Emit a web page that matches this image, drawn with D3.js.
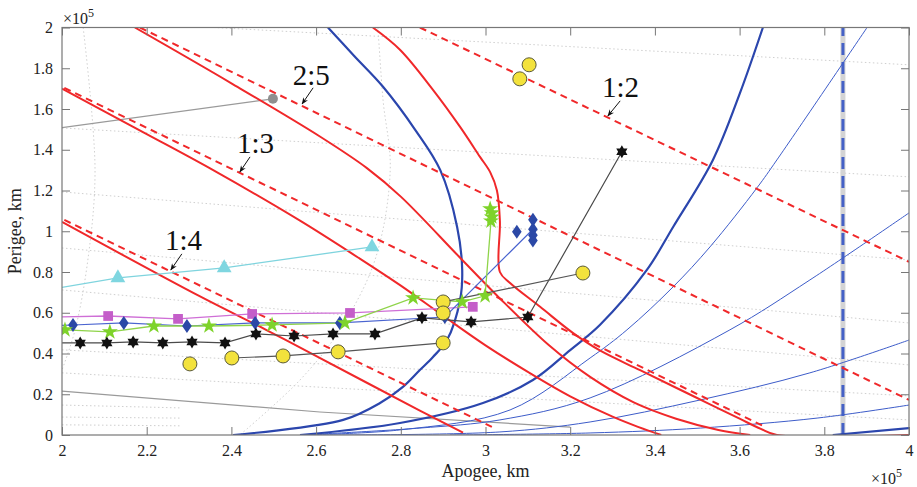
<!DOCTYPE html>
<html>
<head>
<meta charset="utf-8">
<script src="https://d3js.org/d3.v7.min.js"></script>
<style>
  body { margin: 0; background: #fff; }
  svg { font-family: "Liberation Serif", "Times New Roman", serif; }
</style>
</head>
<body>
<div id="chart"></div>
<script>
// all values in units of 1e5 km
var xTicks = [2, 2.2, 2.4, 2.6, 2.8, 3, 3.2, 3.4, 3.6, 3.8, 4];
var xTickLabels = ['2', '2.2', '2.4', '2.6', '2.8', '3', '3.2', '3.4', '3.6', '3.8', '4'];
var yTicks = [0, 0.2, 0.4, 0.6, 0.8, 1, 1.2, 1.4, 1.6, 1.8, 2];
var yTickLabels = ['0', '0.2', '0.4', '0.6', '0.8', '1', '1.2', '1.4', '1.6', '1.8', '2'];

// resonance curves (solid = perturbed, dashed = Keplerian)
var res14Solid = [[2.0, 1.046], [2.326, 0.68], [2.484, 0.514], [2.586, 0.403], [2.845, 0.12], [2.947, 0.012]];
var res13Solid = [[2.0, 1.70], [2.2, 1.477], [2.357, 1.30], [2.562, 1.052], [2.7, 0.87], [2.8, 0.733], [2.9, 0.585],
  [3.0, 0.44], [3.1, 0.31], [3.2, 0.19], [3.3, 0.09], [3.36, 0.04], [3.415, 0.0]];
var res25Solid = [[2.172, 2.0], [2.4, 1.726], [2.609, 1.465], [2.72, 1.31], [2.8, 1.17], [2.94, 0.87], [3.027, 0.685],
  [3.15, 0.44], [3.247, 0.285], [3.35, 0.16], [3.45, 0.08], [3.55, 0.025], [3.625, 0.0]];
var res12Solid = [[2.734, 2.0], [2.798, 1.891], [2.876, 1.694], [2.94, 1.512], [2.987, 1.365], [3.011, 1.29], [3.027, 1.20],
  [3.034, 1.05], [3.034, 0.80], [3.058, 0.746], [3.129, 0.629], [3.207, 0.50], [3.27, 0.415], [3.365, 0.318],
  [3.45, 0.232], [3.523, 0.158], [3.6, 0.08], [3.65, 0.03], [3.688, 0.0], [4.0, 0.0]];
var res14Dash = [[1.98, 1.081], [3.015, 0.04]];
var res13Dash = [[1.98, 1.729], [3.66, 0.04]];
var res25Dash = [[2.184, 2.0], [4.0, 0.172]];
var res12Dash = [[2.845, 2.0], [4.0, 0.85]];

// blue curves
var blueThickA = [[2.628, 2.0], [2.69, 1.86], [2.758, 1.709], [2.834, 1.498], [2.893, 1.301], [2.933, 1.021], [2.945, 0.81],
  [2.94, 0.663], [2.909, 0.466], [2.876, 0.383], [2.845, 0.319], [2.805, 0.236], [2.751, 0.157], [2.664, 0.074], [2.404, 0.0]];
var blueThickB = [[2.562, 0.0], [2.798, 0.059], [2.994, 0.157], [3.112, 0.27], [3.2, 0.417], [3.27, 0.54], [3.381, 0.81],
  [3.443, 1.021], [3.537, 1.35], [3.601, 1.679], [3.655, 2.0]];
var blueThin1 = [[2.562, 0.0], [2.798, 0.025], [3.058, 0.123], [3.247, 0.378], [3.334, 0.516], [3.443, 0.727],
  [3.53, 0.923], [3.641, 1.213], [3.688, 1.35], [3.901, 2.0]];
var blueThin2 = [[2.562, 0.0], [2.845, 0.034], [3.034, 0.074], [3.247, 0.182], [3.577, 0.516], [3.766, 0.761], [4.0, 1.09]];
var blueThin3 = [[2.633, 0.0], [3.034, 0.015], [3.247, 0.064], [3.507, 0.172], [3.766, 0.305], [4.0, 0.466]];
var blueThin4 = [[2.916, 0.0], [3.247, 0.01], [3.507, 0.034], [3.783, 0.083], [4.0, 0.147]];
var blueShort = [[3.82, 0.0], [4.0, 0.034]];
var moonDistance = 3.844;

// grey reference lines
var greyUpper = [[1.95, 1.494], [2.498, 1.65]];
var greyLower = [[1.95, 0.224], [2.609, 0.113], [3.2, 0.039]];
var greyDot = [2.498, 1.65];

// trajectories
var cyanTri = [[1.9, 0.69], [2.132, 0.771], [2.383, 0.82], [2.732, 0.923]];
var magentaSq = [[1.9, 0.575], [2.109, 0.584], [2.274, 0.57], [2.449, 0.594], [2.68, 0.599], [2.97, 0.629]];
var blueDiam = [[1.9, 0.53], [2.026, 0.54], [2.146, 0.55], [2.295, 0.535], [2.456, 0.55], [2.656, 0.55], [2.904, 0.579], [3.112, 1.01]];
var blueDiamExtra = [[3.074, 0.997], [3.112, 1.056], [3.112, 0.98], [3.112, 0.955]];
var greenStar = [[2.007, 0.516], [2.113, 0.506], [2.217, 0.535], [2.347, 0.535], [2.496, 0.54], [2.668, 0.55], [2.829, 0.673],
  [2.945, 0.653], [2.999, 0.683], [3.013, 1.05], [3.015, 1.07], [3.015, 1.09], [3.011, 1.11]];
var blackStar = [[1.9, 0.452], [2.043, 0.452], [2.106, 0.452], [2.168, 0.457], [2.238, 0.452], [2.307, 0.457], [2.385, 0.452],
  [2.458, 0.496], [2.548, 0.486], [2.64, 0.496], [2.739, 0.496], [2.85, 0.575], [2.966, 0.555], [3.1, 0.579], [3.322, 1.39]];
var yellowA = [[2.401, 0.378], [2.522, 0.388], [2.652, 0.408], [2.9, 0.452]];
var yellowB = [[2.9, 0.653], [3.23, 0.795]];
var yellowSingle = [[2.302, 0.349], [2.9, 0.599], [3.081, 1.748], [3.103, 1.817]];

// faint background grid of another coordinate family
var faintLines = [
  [[2.0, 2.04], [4.0, 1.817]], [[2.0, 1.507], [4.0, 1.267]], [[2.0, 1.193], [4.0, 0.859]],
  [[2.0, 0.918], [4.0, 0.55]], [[2.0, 0.712], [4.0, 0.344]], [[2.0, 0.418], [4.0, 0.192]],
  [[2.0, 0.305], [4.0, 0.074]], [[2.0, 0.147], [2.28, 0.133]], [[2.0, 0.088], [2.28, 0.083]],
  [[2.0, 0.05], [2.28, 0.045]],
  [[2.05, 2.0], [2.078, 1.301], [2.061, 0.859], [2.031, 0.516], [2.0, 0.319]],
  [[2.746, 2.0], [2.758, 1.646], [2.775, 1.301], [2.739, 0.859], [2.656, 0.516], [2.562, 0.27], [2.42, 0.0]]
];

var labels = [
  {text: '2:5', x: 2.545, y: 1.719, ax: 2.593, ay: 1.704, bx: 2.567, by: 1.625},
  {text: '1:3', x: 2.413, y: 1.385, ax: 2.444, ay: 1.365, bx: 2.42, by: 1.291},
  {text: '1:4', x: 2.243, y: 0.908, ax: 2.283, ay: 0.889, bx: 2.257, by: 0.81},
  {text: '1:2', x: 3.275, y: 1.66, ax: 3.318, ay: 1.64, bx: 3.289, by: 1.566}
];

var W = 917, H = 487;
var x = d3.scaleLinear().domain([2, 4]).range([62, 909]);
var y = d3.scaleLinear().domain([0, 2]).range([435, 27.5]);

var RED = '#f0282a', BLUE = '#2b46ad', BLUE_T = '#3d5cc9';

var svg = d3.select('#chart').append('svg').attr('width', W).attr('height', H);

svg.append('defs').append('clipPath').attr('id', 'plot')
  .append('rect').attr('x', x(2)).attr('y', y(2)).attr('width', x(4) - x(2)).attr('height', y(0) - y(2));
svg.select('defs').append('marker').attr('id', 'arrow')
  .attr('viewBox', '0 0 10 10').attr('refX', 9).attr('refY', 5)
  .attr('markerWidth', 7).attr('markerHeight', 7).attr('orient', 'auto')
  .append('path').attr('d', 'M0,1L10,5L0,9L3,5Z').attr('fill', '#111');

var g = svg.append('g').attr('clip-path', 'url(#plot)');

var line = d3.line().x(function (d) { return x(d[0]); }).y(function (d) { return y(d[1]); });
var smooth = d3.line().x(function (d) { return x(d[0]); }).y(function (d) { return y(d[1]); })
  .curve(d3.curveCatmullRom.alpha(0.5));

// faint dotted grid
g.selectAll('.faint').data(faintLines).enter().append('path')
  .attr('d', smooth).attr('fill', 'none')
  .attr('stroke', '#cfcfcf').attr('stroke-width', 1).attr('stroke-dasharray', '1.5,2.5');

// moon distance
g.append('line').attr('x1', x(moonDistance)).attr('x2', x(moonDistance)).attr('y1', y(0)).attr('y2', y(2))
  .attr('stroke', '#d4d4d4').attr('stroke-width', 5);
g.append('line').attr('x1', x(moonDistance)).attr('x2', x(moonDistance)).attr('y1', y(0)).attr('y2', y(2))
  .attr('stroke', '#4561c6').attr('stroke-width', 3).attr('stroke-dasharray', '12,7');

// grey lines
[greyUpper, greyLower].forEach(function (d) {
  g.append('path').datum(d).attr('d', line).attr('fill', 'none').attr('stroke', '#9a9a9a').attr('stroke-width', 1.2);
});

// blue curves
[blueThin1, blueThin2, blueThin3, blueThin4].forEach(function (d) {
  g.append('path').datum(d).attr('d', smooth).attr('fill', 'none').attr('stroke', BLUE_T).attr('stroke-width', 1);
});
[blueThickA, blueThickB, blueShort].forEach(function (d) {
  g.append('path').datum(d).attr('d', smooth).attr('fill', 'none').attr('stroke', BLUE).attr('stroke-width', 2.2);
});

// resonances
[res14Dash, res13Dash, res25Dash, res12Dash].forEach(function (d) {
  g.append('path').datum(d).attr('d', line).attr('fill', 'none')
    .attr('stroke', RED).attr('stroke-width', 2).attr('stroke-dasharray', '7,5');
});
[res14Solid, res13Solid, res25Solid, res12Solid].forEach(function (d) {
  g.append('path').datum(d).attr('d', smooth).attr('fill', 'none').attr('stroke', RED).attr('stroke-width', 2);
});

// trajectories
var drawLine = function (data, color, width) {
  g.append('path').datum(data).attr('d', line).attr('fill', 'none').attr('stroke', color).attr('stroke-width', width);
};
drawLine(cyanTri, '#7fd4de', 1.3);
drawLine(magentaSq, '#cf6fd6', 1.3);
drawLine(blueDiam, '#4a64d0', 1.2);
drawLine(greenStar, '#8fd44a', 1.3);
drawLine(blackStar, '#4a4a4a', 1.2);
drawLine(yellowA, '#555', 1.2);
drawLine(yellowB, '#555', 1.2);

var hexagram = function (r) {
  var p = [], q = [];
  for (var i = 0; i < 3; i++) {
    var a = -Math.PI / 2 + i * 2 * Math.PI / 3;
    p.push([r * Math.cos(a), r * Math.sin(a)]);
    q.push([r * Math.cos(a + Math.PI), r * Math.sin(a + Math.PI)]);
  }
  return 'M' + p.join('L') + 'Z M' + q.join('L') + 'Z';
};

var drawMarkers = function (data, pathStr, fill, stroke) {
  g.selectAll(null).data(data).enter().append('path')
    .attr('transform', function (d) { return 'translate(' + x(d[0]) + ',' + y(d[1]) + ')'; })
    .attr('d', pathStr).attr('fill', fill).attr('stroke', stroke || 'none').attr('stroke-width', 0.6);
};
drawMarkers(cyanTri, d3.symbol(d3.symbolTriangle, 95)(), '#7fd6e0');
drawMarkers(magentaSq, d3.symbol(d3.symbolSquare, 95)(), '#c45ec9');
drawMarkers(blueDiam.concat(blueDiamExtra), 'M0,-7L4.8,0L0,7L-4.8,0Z', '#2b48a6');
drawMarkers(greenStar, d3.symbol(d3.symbolStar, 80)(), '#7ed32a');
drawMarkers(blackStar, hexagram(6.5), '#111');

g.selectAll(null).data(yellowA.concat(yellowB, yellowSingle)).enter().append('circle')
  .attr('cx', function (d) { return x(d[0]); }).attr('cy', function (d) { return y(d[1]); })
  .attr('r', 7).attr('fill', '#f3e23c').attr('stroke', '#5a5a3a').attr('stroke-width', 1);

g.append('circle').attr('cx', x(greyDot[0])).attr('cy', y(greyDot[1])).attr('r', 5).attr('fill', '#8f8f8f');

// resonance labels
var lab = svg.append('g');
lab.selectAll('text').data(labels).enter().append('text')
  .attr('x', function (d) { return x(d.x); }).attr('y', function (d) { return y(d.y); })
  .attr('font-size', 29).attr('fill', '#111').text(function (d) { return d.text; });
lab.selectAll('line').data(labels).enter().append('line')
  .attr('x1', function (d) { return x(d.ax); }).attr('y1', function (d) { return y(d.ay); })
  .attr('x2', function (d) { return x(d.bx); }).attr('y2', function (d) { return y(d.by); })
  .attr('stroke', '#111').attr('stroke-width', 1).attr('marker-end', 'url(#arrow)');

// axes (box with inward ticks)
var fmtX = function (d, i) { return xTickLabels[i]; };
var fmtY = function (d, i) { return yTickLabels[i]; };
var axStyle = function (sel) {
  sel.select('.domain').remove();
  sel.selectAll('line').attr('stroke', '#777');
  sel.selectAll('text').attr('font-size', 16).attr('fill', '#222')
    .attr('font-family', '"Liberation Serif", "Times New Roman", serif');
};
svg.append('g').attr('transform', 'translate(0,' + y(0) + ')')
  .call(d3.axisBottom(x).tickValues(xTicks).tickFormat(fmtX).tickSize(-8).tickPadding(10)).call(axStyle);
svg.append('g').attr('transform', 'translate(0,' + y(2) + ')')
  .call(d3.axisTop(x).tickValues(xTicks).tickFormat('').tickSize(-8)).call(axStyle);
svg.append('g').attr('transform', 'translate(' + x(2) + ',0)')
  .call(d3.axisLeft(y).tickValues(yTicks).tickFormat(fmtY).tickSize(-8).tickPadding(9)).call(axStyle);
svg.append('g').attr('transform', 'translate(' + x(4) + ',0)')
  .call(d3.axisRight(y).tickValues(yTicks).tickFormat('').tickSize(-8)).call(axStyle);
svg.append('rect').attr('x', x(2)).attr('y', y(2)).attr('width', x(4) - x(2)).attr('height', y(0) - y(2))
  .attr('fill', 'none').attr('stroke', '#777').attr('stroke-width', 1.2);

// exponent notes
var expo = function (px, py) {
  var t = svg.append('text').attr('x', px).attr('y', py).attr('font-size', 16).attr('fill', '#222');
  t.append('tspan').text('\u00d710');
  t.append('tspan').attr('dy', -7).attr('font-size', 12).text('5');
};
expo(63, 24);
expo(871, 484);

// axis titles
svg.append('text').attr('x', (x(2) + x(4)) / 2).attr('y', 477).attr('text-anchor', 'middle')
  .attr('font-size', 18).attr('fill', '#222').text('Apogee, km');
svg.append('text').attr('transform', 'translate(21,' + (y(0) + y(2)) / 2 + ') rotate(-90)')
  .attr('text-anchor', 'middle').attr('font-size', 18).attr('fill', '#222').text('Perigee, km');
</script>
</body>
</html>
